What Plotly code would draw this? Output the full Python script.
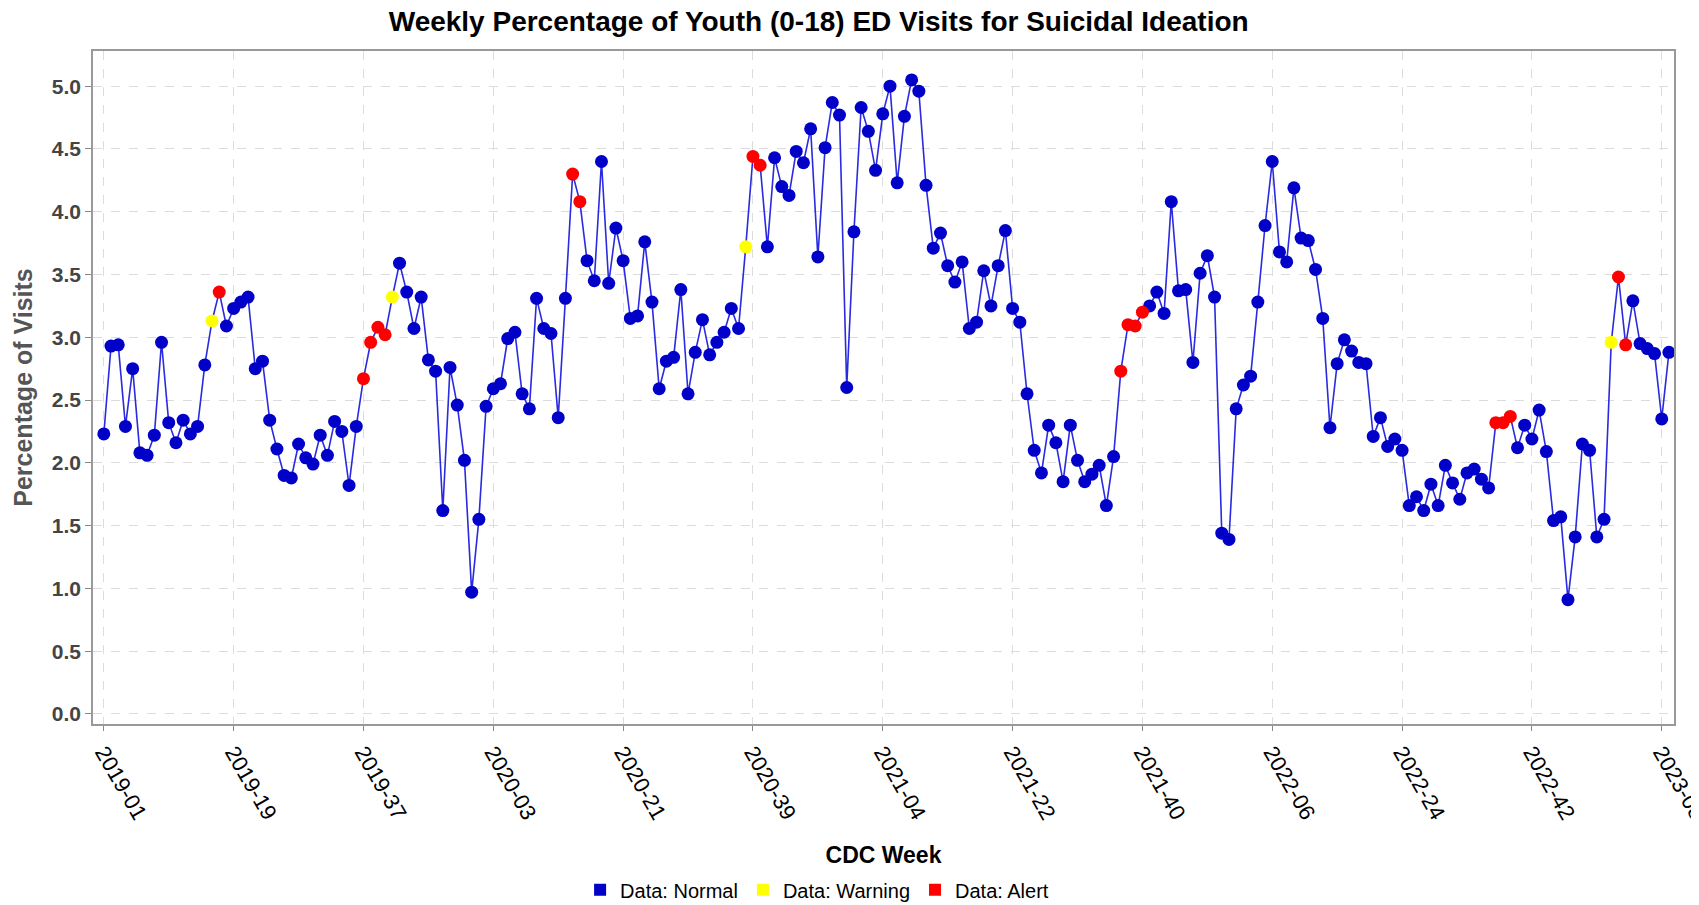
import plotly.graph_objects as go

# CDC weeks covered: 2019-01 .. 2023-09
weeks_per_year = [(2019, 52), (2020, 53), (2021, 52), (2022, 52), (2023, 9)]
weeks = [f"{yr}-{wk:02d}" for yr, n in weeks_per_year for wk in range(1, n + 1)]

pct_visits = [
    2.23, 2.93, 2.94, 2.29, 2.75, 2.08, 2.06, 2.22, 2.96, 2.32,
    2.16, 2.34, 2.23, 2.29, 2.78, 3.13, 3.36, 3.09, 3.23, 3.28,
    3.32, 2.75, 2.81, 2.34, 2.11, 1.90, 1.88, 2.15, 2.04, 1.99,
    2.22, 2.06, 2.33, 2.25, 1.82, 2.29, 2.67, 2.96, 3.08, 3.02,
    3.32, 3.59, 3.36, 3.07, 3.32, 2.82, 2.73, 1.62, 2.76, 2.46,
    2.02, 0.97, 1.55, 2.45, 2.59, 2.63, 2.99, 3.04, 2.55, 2.43,
    3.31, 3.07, 3.03, 2.36, 3.31, 4.30, 4.08, 3.61, 3.45, 4.40,
    3.43, 3.87, 3.61, 3.15, 3.17, 3.76, 3.28, 2.59, 2.81, 2.84,
    3.38, 2.55, 2.88, 3.14, 2.86, 2.96, 3.04, 3.23, 3.07, 3.72,
    4.44, 4.37, 3.72, 4.43, 4.20, 4.13, 4.48, 4.39, 4.66, 3.64,
    4.51, 4.87, 4.77, 2.60, 3.84, 4.83, 4.64, 4.33, 4.78, 5.00,
    4.23, 4.76, 5.05, 4.96, 4.21, 3.71, 3.83, 3.57, 3.44, 3.60,
    3.07, 3.12, 3.53, 3.25, 3.57, 3.85, 3.23, 3.12, 2.55, 2.10,
    1.92, 2.30, 2.16, 1.85, 2.30, 2.02, 1.85, 1.91, 1.98, 1.66,
    2.05, 2.73, 3.10, 3.09, 3.20, 3.25, 3.36, 3.19, 4.08, 3.37,
    3.38, 2.80, 3.51, 3.65, 3.32, 1.44, 1.39, 2.43, 2.62, 2.69,
    3.28, 3.89, 4.40, 3.68, 3.60, 4.19, 3.79, 3.77, 3.54, 3.15,
    2.28, 2.79, 2.98, 2.89, 2.80, 2.79, 2.21, 2.36, 2.13, 2.19,
    2.10, 1.66, 1.73, 1.62, 1.83, 1.66, 1.98, 1.84, 1.71, 1.92,
    1.95, 1.87, 1.80, 2.32, 2.32, 2.37, 2.12, 2.30, 2.19, 2.42,
    2.09, 1.54, 1.57, 0.91, 1.41, 2.15, 2.10, 1.41, 1.55, 2.96,
    3.48, 2.94, 3.29, 2.95, 2.91, 2.87, 2.35, 2.88,
]

warning_weeks = ["2019-16", "2019-41", "2020-38", "2023-01"]
alert_weeks = ["2019-17", "2019-37", "2019-38", "2019-39", "2019-40",
               "2020-14", "2020-15", "2020-39", "2020-40",
               "2021-37", "2021-38", "2021-39", "2021-40",
               "2022-37", "2022-38", "2022-39", "2023-02", "2023-03"]

tick_weeks = weeks[::18]

BLUE = "#0000c8"
LINE_BLUE = "#2a2ae0"
FONT = "Liberation Sans, Arial, sans-serif"

status = ["Alert" if w in alert_weeks else "Warning" if w in warning_weeks else "Normal" for w in weeks]

fig = go.Figure()

# connecting line
fig.add_trace(go.Scatter(x=weeks, y=pct_visits, mode="lines",
                         line=dict(color=LINE_BLUE, width=1.6),
                         hoverinfo="skip", showlegend=False))

colors = {"Normal": BLUE, "Warning": "#ffff00", "Alert": "#ff0000"}
for s in ["Normal", "Warning", "Alert"]:
    xs = [w for w, st in zip(weeks, status) if st == s]
    ys = [v for v, st in zip(pct_visits, status) if st == s]
    fig.add_trace(go.Scatter(x=xs, y=ys, mode="markers",
                             marker=dict(color=colors[s], size=13, line=dict(width=0)),
                             name=f"Data: {s}", showlegend=False))
    # square legend entries like the original
    fig.add_trace(go.Scatter(x=[None], y=[None], mode="markers",
                             marker=dict(color=colors[s], size=14, symbol="square"),
                             name=f"Data: {s}"))

# page body has an 8px margin, so the figure is sized to fit the window
fig.update_layout(
    width=1691, height=897,
    paper_bgcolor="white", plot_bgcolor="white",
    margin=dict(l=85, r=25, t=43, b=181),
    font=dict(family=FONT, color="#000"),
    title=dict(text="<b>Weekly Percentage of Youth (0-18) ED Visits for Suicidal Ideation</b>",
               x=0.459, xref="paper", xanchor="center", y=0.985, yanchor="middle",
               font=dict(size=28, color="#000")),
    legend=dict(orientation="h", x=0.458, xanchor="center",
                yref="container", y=0.017, yanchor="middle",
                font=dict(size=20), itemsizing="constant", itemwidth=30,
                tracegroupgap=0),
)

fig.update_xaxes(
    type="category", range=[-1.5, 217.7], automargin=False,
    tickvals=tick_weeks, ticktext=tick_weeks, tickangle=60,
    tickfont=dict(size=22, color="#000"),
    ticks="outside", ticklen=5, tickcolor="#888",
    showgrid=True, gridcolor="#dcdcdc", griddash="dash", gridwidth=1,
    showline=True, linecolor="#999", linewidth=1.5, mirror=True,
    title=dict(text="<b>CDC Week</b>", font=dict(size=23, color="#000"), standoff=24),
    zeroline=False,
)
fig.update_yaxes(
    range=[-0.08, 5.28], dtick=0.5, tickformat=".1f", automargin=False,
    tickfont=dict(size=21, color="#444", family=FONT),
    ticks="outside", ticklen=6, tickcolor="#888",
    tickprefix="<b>", ticksuffix="</b>",
    showgrid=True, gridcolor="#dcdcdc", griddash="dash", gridwidth=1,
    showline=True, linecolor="#999", linewidth=1.5, mirror=True,
    title=dict(text="<b>Percentage of Visits</b>", font=dict(size=25, color="#555"), standoff=12),
    zeroline=False,
)

fig.write_html("out.html")
